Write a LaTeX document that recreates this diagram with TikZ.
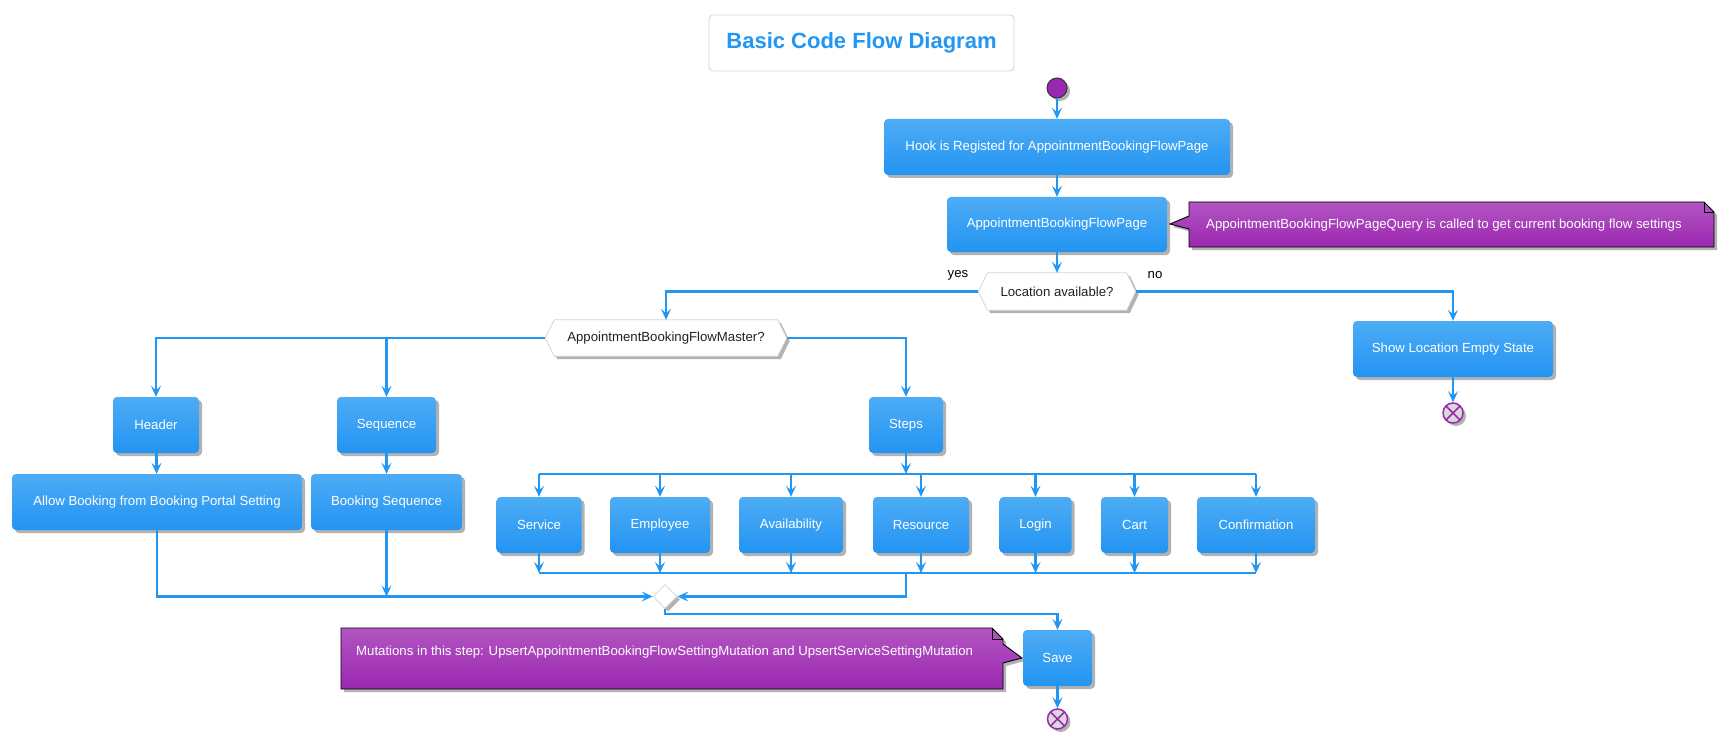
\documentclass[tikz,border=0pt]{standalone}
\usepackage{fontspec}
\setmainfont{Liberation Sans}
\usetikzlibrary{arrows.meta,shadows,calc,backgrounds,shapes.geometric}
\definecolor{flow}{HTML}{2196F3}
\definecolor{acttop}{HTML}{4EACF5}
\definecolor{actbot}{HTML}{2294F2}
\definecolor{notetop}{HTML}{B255C2}
\definecolor{notebot}{HTML}{9C27B0}
\definecolor{purp}{HTML}{9C27B0}
\definecolor{hexline}{HTML}{D4D4D4}
\definecolor{darktext}{HTML}{222222}
\newcommand\fsize{\fontsize{13.2}{15}\selectfont}
\newcommand\hexagonbg[2]{%
  \begin{pgfonlayer}{background}
  \path[fill=white, draw=hexline, line width=0.8pt, softshadow]
    (#1.west) -- ([xshift=#2pt]#1.north west) -- ([xshift=-#2pt]#1.north east)
    -- (#1.east) -- ([xshift=-#2pt]#1.south east) -- ([xshift=#2pt]#1.south west) -- cycle;
  \end{pgfonlayer}}
\tikzset{
  softshadow/.style={drop shadow={shadow xshift=3pt, shadow yshift=-3pt, opacity=0.3, fill=black}},
  act/.style={rounded corners=4pt, top color=acttop, bottom color=actbot, draw=none,
    text=white, font=\fsize, inner sep=0pt, minimum height=56pt, softshadow},
  decis/.style={draw=none, fill=none, text=darktext, font=\fsize, inner sep=0pt},
  flowline/.style={draw=flow, line width=2.8pt,
    -{Stealth[length=11pt,width=10pt,inset=4.5pt,line width=1pt]}},
  thinbar/.style={draw=flow, line width=1.5pt},
  notetext/.style={text=white, font=\fsize, inner sep=0pt},
  noteshape/.style={top color=notetop, bottom color=notebot, draw=black, line width=0.9pt, softshadow},
  lbl/.style={text=black, font=\fsize, inner sep=0pt},
  stopnode/.style={circle, minimum size=20pt, inner sep=0pt, draw=purp, line width=1.5pt,
    fill=gray!30, softshadow,
    path picture={\draw[purp, line width=1.5pt]
      (path picture bounding box.north west) -- (path picture bounding box.south east)
      (path picture bounding box.north east) -- (path picture bounding box.south west);}},
}
\begin{document}
\begin{tikzpicture}[x=1pt,y=-1pt]
\useasboundingbox (0,0) rectangle (1726,746);

% title
\node[draw=hexline, line width=0.8pt, fill=white, rounded corners=4pt, minimum width=305pt,
  minimum height=56pt, inner sep=0pt, text=flow, font=\bfseries\fontsize{22}{26}\selectfont]
  (title) at (861.5,43) {Basic Code Flow Diagram};

% start
\node[circle, minimum size=20pt, inner sep=0pt, fill=purp, draw=black!80, line width=1pt, softshadow]
  (start) at (1057,88) {};

% activities
\node[act, minimum width=346pt] (hook) at (1057,147) {Hook is Registed for AppointmentBookingFlowPage};
\node[act, minimum width=220pt, minimum height=55pt] (page) at (1057,224.5) {AppointmentBookingFlowPage};

% decision location
\node[decis, minimum width=157pt, minimum height=37pt] (loc) at (1057,291.5) {Location available?};
\hexagonbg{loc}{9}
\node[lbl] (yes) at (958,275) {yes};
\node[lbl] (no) at (1155,275) {no};

\node[act, minimum width=200pt] (empty) at (1453,349) {Show Location Empty State};
\node[stopnode] (stop1) at (1453,413) {};

% decision master
\node[decis, minimum width=241pt, minimum height=36pt] (master) at (666,338) {AppointmentBookingFlowMaster?};
\hexagonbg{master}{9}

\node[act, minimum width=86pt] (header) at (156,425) {Header};
\node[act, minimum width=99pt] (sequence) at (386.5,425) {Sequence};
\node[act, minimum width=290pt] (allow) at (157,502) {Allow Booking from Booking Portal Setting};
\node[act, minimum width=151pt] (bookseq) at (386.5,502) {Booking Sequence};
\node[act, minimum width=74pt] (steps) at (906,425) {Steps};

\node[act, minimum width=85pt] (service) at (539,525) {Service};
\node[act, minimum width=100pt] (employee) at (660,525) {Employee};
\node[act, minimum width=104pt] (avail) at (791,525) {Availability};
\node[act, minimum width=96pt] (resource) at (921,525) {Resource};
\node[act, minimum width=72pt] (login) at (1035.5,525) {Login};
\node[act, minimum width=67pt] (cart) at (1134.5,525) {Cart};
\node[act, minimum width=118pt] (confirm) at (1256,525) {Confirmation};

\coordinate (forkbar) at (906,474);
\coordinate (joinbar) at (906,573);

% merge
\node[diamond, aspect=1, minimum width=24pt, minimum height=24pt, inner sep=0pt,
  fill=white, draw=hexline, line width=0.8pt, softshadow] (merge) at (665,596.5) {};

\node[act, minimum width=69pt] (save) at (1057.5,658) {Save};
\node[stopnode] (stop2) at (1057.5,719) {};

% notes
\begin{pgfonlayer}{background}
\path[noteshape] (1189,202) -- (1704,202) -- (1714,212) -- (1714,247) -- (1189,247)
  -- (1189,229) -- (1170,224) -- (1189,216) -- cycle;
\draw[black, line width=0.9pt] (1704,202) -- (1704,212) -- (1714,212);
\path[noteshape] (341,628) -- (992,628) -- (1003,639) -- (1003,644) -- (1022,658)
  -- (1003,663) -- (1003,689) -- (341,689) -- cycle;
\draw[black, line width=0.9pt] (992,628) -- (992,639) -- (1003,639);
\end{pgfonlayer}
\node[notetext, anchor=west] (note1) at (1206,225)
  {AppointmentBookingFlowPageQuery is called to get current booking flow settings};
\node[notetext, anchor=west] (note2) at (356,652.5)
  {Mutations in this step: UpsertAppointmentBookingFlowSettingMutation and UpsertServiceSettingMutation};

% connectors
\draw[flowline] (start) -- (hook);
\draw[flowline] (hook) -- (page);
\draw[flowline] (page) -- (loc.north);
\draw[flowline] (loc.west) -| (master.north);
\draw[flowline] (loc.east) -| (empty.north);
\draw[flowline] (empty) -- (stop1);

\draw[flowline] (master.west) -| (header.north);
\draw[flowline] (master.west -| sequence.north) -- (sequence.north);
\draw[flowline] (master.east) -| (steps.north);
\draw[flowline] (header) -- (allow);
\draw[flowline] (sequence) -- (bookseq);

\draw[flowline] (steps.south) -- (forkbar);
\draw[thinbar] (service.north |- forkbar) -- (confirm.north |- forkbar);
\foreach \n in {service,employee,avail,resource,login,cart,confirm}{
  \draw[flowline] (\n.north |- forkbar) -- (\n.north);
  \draw[flowline] (\n.south) -- (\n.south |- joinbar);
}
\draw[thinbar] (service.south |- joinbar) -- (confirm.south |- joinbar);
\draw[flowline] (joinbar) |- (merge.east);

\draw[flowline] (allow.south) |- (merge.west);
\draw[flowline] (bookseq.south) -- (bookseq.south |- merge.west);

\draw[flowline] (merge.south) -- ++(0,5) -| (save.north);
\draw[flowline] (save) -- (stop2);
\end{tikzpicture}
\end{document}
